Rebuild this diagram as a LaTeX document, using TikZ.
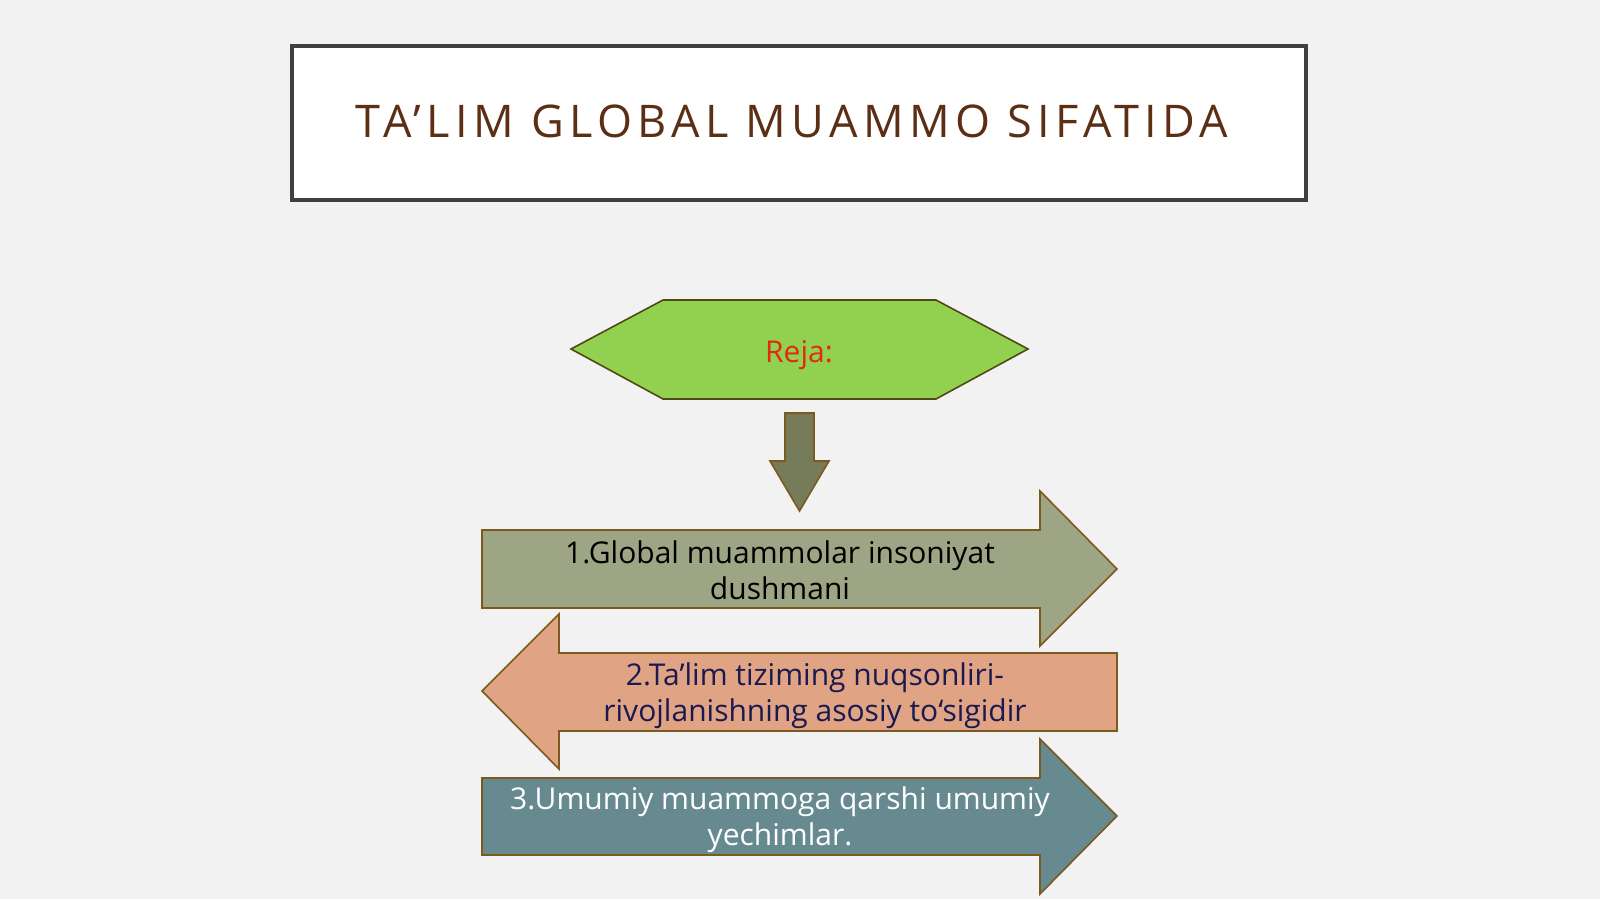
\documentclass[tikz,border=0pt]{standalone}
\usepackage{fontspec}
\setmainfont{Open Sans}
\newfontfamily\titlefont[LetterSpace=12]{Open Sans}
\definecolor{bgc}{HTML}{F2F2F2}
\definecolor{tborder}{HTML}{404040}
\definecolor{tbrown}{HTML}{5C2E14}
\definecolor{hexfill}{HTML}{92D050}
\definecolor{hexline}{HTML}{4F4A14}
\definecolor{rejared}{HTML}{E02B12}
\definecolor{downfill}{HTML}{767C5A}
\definecolor{shapeline}{HTML}{7A5A1E}
\definecolor{aonefill}{HTML}{9DA584}
\definecolor{atwofill}{HTML}{E0A383}
\definecolor{athreefill}{HTML}{678A91}
\definecolor{navy}{HTML}{1A1A50}
\tikzset{
  shapebox/.style={draw=shapeline, line width=0.8pt, line join=miter},
  bodytext/.style={font=\fontsize{15}{18}\selectfont, align=center, inner sep=0pt},
}
\begin{document}
\begin{tikzpicture}[x=0.5pt,y=-0.5pt]
\fill[bgc] (0,0) rectangle (1600,899);
\useasboundingbox (0,0) rectangle (1600,899);
% title
\draw[line width=2pt, draw=tborder, fill=white] (292,46) rectangle (1306,200);
\node[font=\titlefont\fontsize{22.5}{26}\selectfont, text=tbrown, inner sep=0pt] (title) at (792,121) {TA’LIM GLOBAL MUAMMO SIFATIDA};
% hexagon
\draw[draw=hexline, line width=0.8pt, fill=hexfill] (571,349) -- (663,300) -- (936,300) -- (1028,349) -- (936,399) -- (663,399) -- cycle;
\node[font=\fontsize{15}{18}\selectfont, text=rejared, anchor=base, inner sep=0pt] (reja) at (799,362) {Reja:};
% down arrow
\draw[shapebox, fill=downfill] (785,413) -- (814,413) -- (814,461) -- (829,461) -- (799.5,511) -- (770,461) -- (785,461) -- cycle;
% arrow 1
\draw[shapebox, fill=aonefill] (482,530) -- (1040,530) -- (1040,491) -- (1117,569) -- (1040,646) -- (1040,608) -- (482,608) -- cycle;
\node[bodytext, text=black] (one) at (780,570) {1.Global muammolar insoniyat\\dushmani};
% arrow 2
\draw[shapebox, fill=atwofill] (1117,653) -- (559,653) -- (559,614) -- (482,691) -- (559,769) -- (559,731) -- (1117,731) -- cycle;
\node[bodytext, text=navy] (two) at (815,696) {2.Ta’lim tiziming nuqsonliri-\\rivojlanishning asosiy to‘sigidir};
% arrow 3
\draw[shapebox, fill=athreefill] (482,778) -- (1040,778) -- (1040,739) -- (1117,816) -- (1040,894) -- (1040,855) -- (482,855) -- cycle;
\node[bodytext, text=white] (three) at (780,820) {3.Umumiy muammoga qarshi umumiy\\yechimlar.};
\end{tikzpicture}
\end{document}
